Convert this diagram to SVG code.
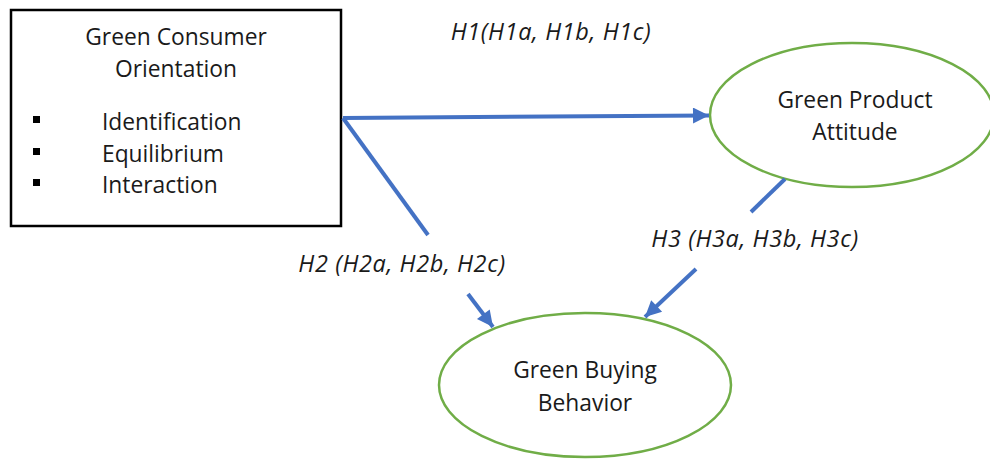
<svg xmlns="http://www.w3.org/2000/svg" width="990" height="459" viewBox="0 0 990 459">
<style>
text{font-family:"Open Sans","Liberation Sans",sans-serif;font-size:22.8px;fill:#1a1a1a}
.lbl{font-style:italic;font-size:23.5px;letter-spacing:0.6px}
.ell{fill:#fff;stroke:#70AD47;stroke-width:2.5}
.con{fill:none;stroke:#4472C4;stroke-width:4}
</style>
<defs>
<marker id="ah" viewBox="0 0 10 10" refX="10" refY="5" markerWidth="5" markerHeight="4" orient="auto" markerUnits="strokeWidth">
<path d="M0,0 L10,5 L0,10 z" fill="#4472C4"/>
</marker>
</defs>
<rect width="990" height="459" fill="#fff"/>
<g id="gco">
<rect x="11" y="10" width="330" height="216" fill="#fff" stroke="#000" stroke-width="2.5"/>
<text x="176" y="45" text-anchor="middle">Green Consumer</text>
<text x="176" y="77" text-anchor="middle">Orientation</text>
<rect x="33" y="116" width="7" height="7" fill="#000"/>
<rect x="33" y="148" width="7" height="7" fill="#000"/>
<rect x="33" y="179" width="7" height="7" fill="#000"/>
<text x="102" y="130">Identification</text>
<text x="102" y="162">Equilibrium</text>
<text x="102" y="193">Interaction</text>
</g>
<g id="gpa">
<ellipse class="ell" cx="852" cy="115" rx="142" ry="72"/>
<text x="855" y="108" text-anchor="middle">Green Product</text>
<text x="855" y="140" text-anchor="middle">Attitude</text>
</g>
<g id="gbb">
<ellipse class="ell" cx="585" cy="385" rx="146" ry="72"/>
<text x="585" y="378" text-anchor="middle">Green Buying</text>
<text x="585" y="411" text-anchor="middle">Behavior</text>
</g>
<g id="connectors">
<path class="con" d="M343,118 L709,115.5" marker-end="url(#ah)"/>
<path class="con" d="M343,118 L428,235"/>
<path class="con" d="M468,294 L493,327" marker-end="url(#ah)"/>
<path class="con" d="M785,179 L751,212"/>
<path class="con" d="M696,269 L645,317" marker-end="url(#ah)"/>
<text class="lbl" x="551" y="40" text-anchor="middle">H1(H1a, H1b, H1c)</text>
<text class="lbl" x="402" y="272" text-anchor="middle">H2 (H2a, H2b, H2c)</text>
<text class="lbl" x="755" y="247" text-anchor="middle">H3 (H3a, H3b, H3c)</text>
</g>
</svg>
